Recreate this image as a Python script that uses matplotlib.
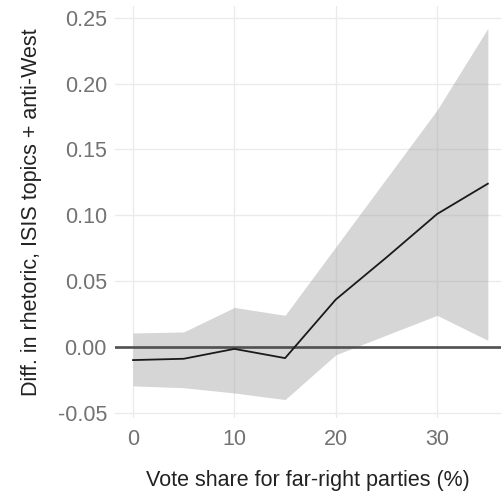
import matplotlib.pyplot as plt

# marginal effect of far-right vote share on rhetoric, with 95% band
vote_share = [0, 5, 10, 15, 20, 25, 30, 35]
effect = [-0.010, -0.009, -0.0015, -0.0085, 0.036, 0.068, 0.101, 0.124]
upper = [0.0106, 0.0114, 0.030, 0.024, 0.076, 0.128, 0.180, 0.242]
lower = [-0.0296, -0.031, -0.035, -0.040, -0.006, 0.009, 0.024, 0.005]

x_ticks = [0, 10, 20, 30]
y_ticks = [-0.05, 0.00, 0.05, 0.10, 0.15, 0.20, 0.25]

plt.rcParams['font.family'] = ['Liberation Sans', 'DejaVu Sans']

fig = plt.figure(figsize=(5.01, 4.96), dpi=100)
ax = fig.add_axes([115.3 / 501, 78 / 496, (501 - 115.3) / 501, 412 / 496])

ax.fill_between(vote_share, lower, upper, color='#999999', alpha=0.4,
                linewidth=0, zorder=2)
ax.axhline(0, color='#505050', linewidth=1.9, zorder=3)
ax.plot(vote_share, effect, color='#1a1a1a', linewidth=1.3, zorder=4)

ax.set_xlim(-1.75, 36.3)
ax.set_ylim(-0.054, 0.259)
ax.set_xticks(x_ticks)
ax.set_yticks(y_ticks)
ax.set_yticklabels([f'{v:.2f}' for v in y_ticks])

ax.grid(True, color='#ebebeb', linewidth=1.0, zorder=0)
ax.set_axisbelow(True)
for side in ax.spines.values():
    side.set_visible(False)
ax.tick_params(length=0, labelsize=15.5, labelcolor='#727272')
ax.tick_params(axis='x', pad=8)
ax.tick_params(axis='y', pad=6)

ax.set_xlabel('Vote share for far-right parties (%)', fontsize=15.5,
              color='#222222', labelpad=14)
ax.set_ylabel('Diff. in rhetoric, ISIS topics + anti-West', fontsize=15.5,
              color='#222222', labelpad=11)

fig.savefig('out.png', dpi=100)
